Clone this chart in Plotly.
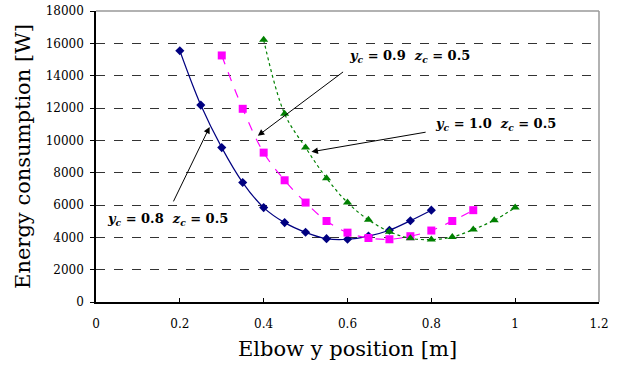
import plotly.graph_objects as go

x_08 = [0.2, 0.25, 0.3, 0.35, 0.4, 0.45, 0.5, 0.55, 0.6, 0.65, 0.7, 0.75, 0.8]
e_08 = [15540, 12180, 9550, 7390, 5840, 4910, 4310, 3920, 3880, 4080, 4440, 5030, 5680]

x_09 = [0.3, 0.35, 0.4, 0.45, 0.5, 0.55, 0.6, 0.65, 0.7, 0.75, 0.8, 0.85, 0.9]
e_09 = [15250, 11950, 9240, 7530, 6150, 5010, 4290, 3960, 3880, 4070, 4420, 5010, 5680]

x_10 = [0.4, 0.45, 0.5, 0.55, 0.6, 0.65, 0.7, 0.75, 0.8, 0.85, 0.9, 0.95, 1.0]
e_10 = [16220, 11640, 9550, 7660, 6150, 5080, 4350, 3940, 3860, 4020, 4480, 5060, 5840]

x_ticks = [0, 0.2, 0.4, 0.6, 0.8, 1.0, 1.2]
x_tick_labels = ["0", "0.2", "0.4", "0.6", "0.8", "1", "1.2"]
y_ticks = [0, 2000, 4000, 6000, 8000, 10000, 12000, 14000, 16000, 18000]
y_tick_labels = ["0", "2000", "4000", "6000", "8000", "10000", "12000", "14000", "16000", "18000"]

labels = [
    "<b><i>y</i><sub><i>c</i></sub> = 0.8 &nbsp;<i>z</i><sub><i>c</i></sub> = 0.5</b>",
    "<b><i>y</i><sub><i>c</i></sub> = 0.9 &nbsp;<i>z</i><sub><i>c</i></sub> = 0.5</b>",
    "<b><i>y</i><sub><i>c</i></sub> = 1.0 &nbsp;<i>z</i><sub><i>c</i></sub> = 0.5</b>",
]

FONT = "DejaVu Serif"

fig = go.Figure()
fig.add_trace(go.Scatter(x=x_08, y=e_08, mode="lines+markers",
                         line=dict(color="#000080", width=1.2, shape="spline"),
                         marker=dict(symbol="diamond", size=7, color="#000080")))
fig.add_trace(go.Scatter(x=x_09, y=e_09, mode="lines+markers",
                         line=dict(color="#FF00FF", width=1.2, shape="spline", dash="dash"),
                         marker=dict(symbol="square", size=8, color="#FF00FF")))
fig.add_trace(go.Scatter(x=x_10, y=e_10, mode="lines+markers",
                         line=dict(color="#008000", width=1.2, shape="spline", dash="dot"),
                         marker=dict(symbol="triangle-up", size=8, color="#008000")))

# label texts
text_pos = [(0.171, 5130), (0.748, 15170), (0.952, 10960)]
for (tx, ty), t in zip(text_pos, labels):
    fig.add_annotation(x=tx, y=ty, xref="x", yref="y", text=t, showarrow=False,
                       font=dict(family=FONT, size=13, color="black"))

# arrows (tail -> head)
arrows = [((0.183, 6130), (0.271, 10830)),
          ((0.593, 14300), (0.386, 10280)),
          ((0.790, 10520), (0.514, 9290))]
for (t, h) in arrows:
    fig.add_annotation(x=h[0], y=h[1], ax=t[0], ay=t[1], xref="x", yref="y",
                       axref="x", ayref="y", text="", showarrow=True,
                       arrowhead=2, arrowsize=1.3, arrowwidth=1, arrowcolor="black")

# top/right border in gray
fig.add_shape(type="line", xref="paper", yref="paper", x0=0, x1=1, y0=1, y1=1,
              line=dict(color="#999999", width=1.5), layer="above")
fig.add_shape(type="line", xref="paper", yref="paper", x0=1, x1=1, y0=0, y1=1,
              line=dict(color="#999999", width=1.5), layer="above")

fig.update_layout(
    width=632, height=365,
    margin=dict(l=96, r=33, t=11, b=63, autoexpand=False),
    paper_bgcolor="white", plot_bgcolor="white",
    showlegend=False,
    font=dict(family=FONT, color="black", size=12),
    xaxis=dict(range=[0, 1.2], tickvals=x_ticks, ticktext=x_tick_labels,
               showgrid=False, zeroline=False, showline=True, linecolor="black",
               linewidth=1.5, ticks="inside", ticklen=4, tickcolor="black",
               ticklabelstandoff=10, ticklabeloverflow="allow",
               tickfont=dict(family=FONT, size=12), automargin=False,
               title=dict(text="Elbow y position [m]", font=dict(family=FONT, size=21),
                          standoff=11)),
    yaxis=dict(range=[0, 18000], tickvals=y_ticks, ticktext=y_tick_labels,
               showgrid=True, gridcolor="#333333", griddash="dash", gridwidth=1,
               zeroline=False, showline=True, linecolor="black", linewidth=1.5,
               ticks="outside", ticklen=4, tickcolor="black",
               ticklabelstandoff=4, ticklabeloverflow="allow",
               tickfont=dict(family=FONT, size=12), automargin=False,
               title=dict(text="Energy consumption [W]", font=dict(family=FONT, size=21),
                          standoff=9)),
)

fig.write_html("out.html", config={"displayModeBar": False},
               post_script="document.body.style.margin='0';document.body.style.overflow='hidden';")
